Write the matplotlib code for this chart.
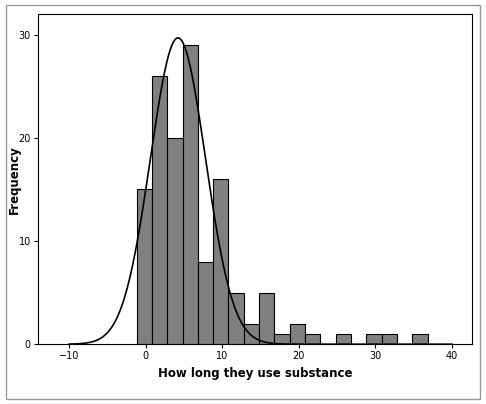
import numpy as np
import matplotlib.pyplot as plt

# histogram bins (width 2)
bin_edges = [-1.2 + 2 * k for k in range(20)]
counts = [15, 26, 20, 29, 8, 16, 5, 2, 5, 1, 2, 1, 0, 1, 0, 1, 1, 0, 1]
mean_val = 4.2
sd_val = 3.6
n_total = sum(counts)
bin_w = 2.0

fig = plt.figure(figsize=(4.86, 4.04), dpi=100)
fig.patches.append(plt.Rectangle((0.012, 0.012), 0.976, 0.976, transform=fig.transFigure,
                                 fill=False, edgecolor='#999999', lw=1))
ax = fig.add_axes([0.078, 0.148, 0.893, 0.817])

ax.bar(bin_edges[:-1], counts, width=bin_w, align='edge', color='#808080',
       edgecolor='black', linewidth=0.8)

xs = np.linspace(-10, 40, 600)
ys = n_total * bin_w / (sd_val * np.sqrt(2 * np.pi)) * np.exp(-0.5 * ((xs - mean_val) / sd_val) ** 2)
ax.plot(xs, ys, color='black', lw=1.2)

ax.set_xlim(-14.1, 42.6)
ax.set_ylim(0, 32)
ax.set_xticks([-10, 0, 10, 20, 30, 40])
ax.set_yticks([0, 10, 20, 30])
ax.tick_params(labelsize=7, length=3, pad=2)
ax.set_xlabel('How long they use substance', fontsize=8.5, fontweight='bold')
ax.set_ylabel('Frequency', fontsize=8.5, fontweight='bold')
ax.yaxis.set_label_coords(-0.04, 0.5)

fig.savefig('out.png', dpi=100)
